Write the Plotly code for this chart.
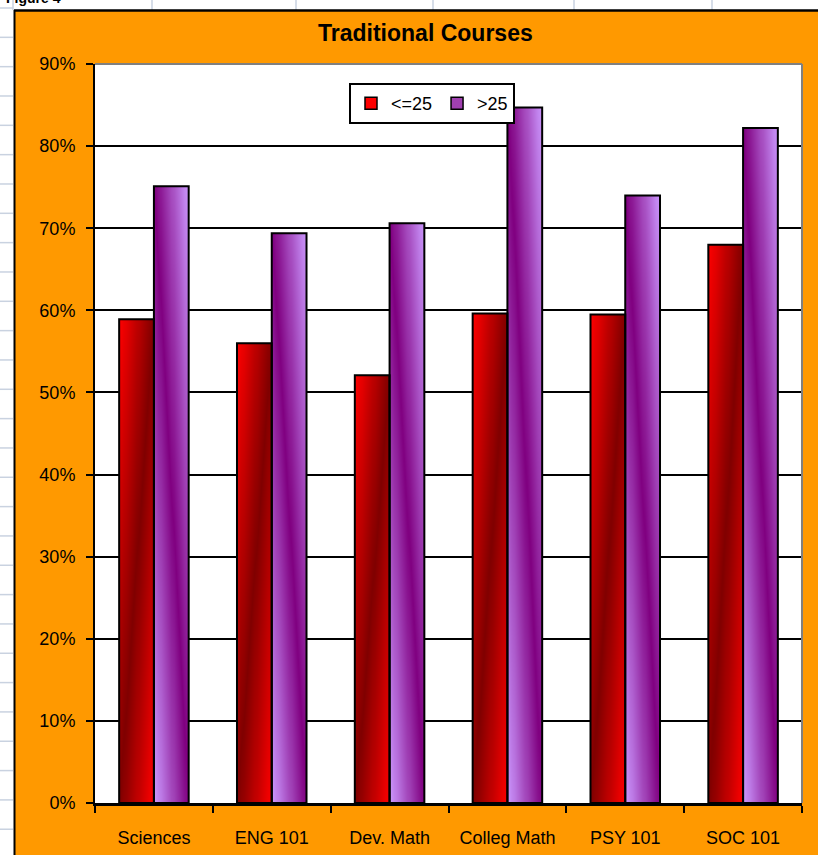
import numpy as np
import plotly.graph_objects as go

# ---- data -------------------------------------------------------------
categories = ["Sciences", "ENG 101", "Dev. Math", "Colleg Math", "PSY 101", "SOC 101"]
series_names = ["<=25", ">25"]
age_le_25 = [0.589, 0.560, 0.521, 0.596, 0.595, 0.680]
age_gt_25 = [0.751, 0.694, 0.706, 0.847, 0.740, 0.822]
y_tick_values = [0.0, 0.1, 0.2, 0.3, 0.4, 0.5, 0.6, 0.7, 0.8, 0.9]
title_text = "Traditional Courses"

# ---- page geometry ----------------------------------------------------
W, H = 818, 855
L, R, T, B = 95, 16, 64, 52
FONT = "Liberation Sans, Arial, sans-serif"


def px_x(p):
    return (p - L) / (W - L - R)


def px_y(p):
    return (H - B - p) / (H - T - B)


BAR_W = 0.295
RED_LIGHT, RED_DARK = "#FF0000", "#800000"
PUR_LIGHT, PUR_DARK = "#CC99FF", "#800080"


def gradient_fill(i, value, offset, light, dark, band):
    """Heatmap that paints one bar with a diagonal two-tone gradient."""
    nc, nr = 16, 60
    xe = [i + offset + BAR_W * k / nc for k in range(nc + 1)]
    ye = [value * j / nr for j in range(nr + 1)]
    u = (np.arange(nc) + 0.5) / nc              # 0 at left edge, 1 at right
    vt = 1 - (np.arange(nr) + 0.5) / nr         # 0 at top, 1 at bottom
    if band == "down":
        s = u[None, :] - vt[:, None]
    else:
        s = u[None, :] + vt[:, None] - 1
    return go.Heatmap(
        x=xe, y=ye, z=s, zmin=-1, zmax=1, zsmooth="best",
        colorscale=[[0, light], [0.5, dark], [1, light]],
        showscale=False, hoverinfo="skip",
    )


fig = go.Figure()
idx = list(range(len(categories)))

for i in idx:
    fig.add_trace(gradient_fill(i, age_le_25[i], -BAR_W, RED_LIGHT, RED_DARK, "up"))
    fig.add_trace(gradient_fill(i, age_gt_25[i], 0.0, PUR_LIGHT, PUR_DARK, "down"))

# bar outlines on top of the gradients
for vals, off, name in [(age_le_25, -BAR_W, series_names[0]), (age_gt_25, 0.0, series_names[1])]:
    fig.add_trace(go.Bar(
        x=idx, y=vals, width=BAR_W, offset=off, name=name,
        marker=dict(color="rgba(0,0,0,0)", line=dict(color="black", width=2)),
        showlegend=False, hovertemplate="%{y:.0%}<extra>" + name + "</extra>",
    ))

# legend entries
for name, col in [(series_names[0], "#FF0000"), (series_names[1], "#A040B0")]:
    fig.add_trace(go.Bar(
        x=[None], y=[None], name=name,
        marker=dict(color=col, line=dict(color="black", width=1.5)),
    ))

# ---- decoration: spreadsheet strip, chart area border, plot border -----
shapes = []
shapes.append(dict(type="rect", xref="paper", yref="paper", layer="below",
                   x0=px_x(0), x1=px_x(W), y0=px_y(0), y1=px_y(10),
                   fillcolor="white", line=dict(width=0)))
shapes.append(dict(type="rect", xref="paper", yref="paper", layer="below",
                   x0=px_x(0), x1=px_x(14), y0=px_y(0), y1=px_y(H),
                   fillcolor="white", line=dict(width=0)))
grid_col = "#C9D2E0"
for k in range(30):
    yy = 8.0 + 29.33 * k
    if yy > H:
        break
    shapes.append(dict(type="line", xref="paper", yref="paper", layer="below",
                       x0=px_x(0), x1=px_x(13), y0=px_y(yy), y1=px_y(yy),
                       line=dict(color=grid_col, width=1.5)))
for xx in [13, 152, 296, 433, 574, 712]:
    shapes.append(dict(type="line", xref="paper", yref="paper", layer="below",
                       x0=px_x(xx), x1=px_x(xx), y0=px_y(0), y1=px_y(10),
                       line=dict(color=grid_col, width=1.5)))
# chart area border
shapes.append(dict(type="line", xref="paper", yref="paper", layer="below",
                   x0=px_x(14.5), x1=px_x(14.5), y0=px_y(10), y1=px_y(H),
                   line=dict(color="black", width=2)))
shapes.append(dict(type="line", xref="paper", yref="paper", layer="below",
                   x0=px_x(14), x1=px_x(W), y0=px_y(10.5), y1=px_y(10.5),
                   line=dict(color="black", width=2.5)))
# plot area border (top and right)
shapes.append(dict(type="line", xref="paper", yref="paper", layer="above",
                   x0=0, x1=1, y0=1, y1=1, line=dict(color="#808080", width=2)))
shapes.append(dict(type="line", xref="paper", yref="paper", layer="above",
                   x0=1, x1=1, y0=0, y1=1, line=dict(color="#808080", width=2)))

annotations = [
    dict(text="<b>" + title_text + "</b>", xref="paper", yref="paper",
         x=px_x(425), y=px_y(33), xanchor="center", yanchor="middle",
         showarrow=False, font=dict(family=FONT, size=23, color="black")),
    dict(text="<b>Figure 4</b>", xref="paper", yref="paper",
         x=px_x(4), y=px_y(-2), xanchor="left", yanchor="middle",
         showarrow=False, font=dict(family=FONT, size=14, color="black")),
]

fig.update_layout(
    width=W, height=H,
    margin=dict(l=L, r=R, t=T, b=B, pad=0),
    paper_bgcolor="#FF9900",
    plot_bgcolor="white",
    barmode="overlay",
    font=dict(family=FONT, size=18, color="black"),
    shapes=shapes,
    annotations=annotations,
    legend=dict(
        orientation="h", x=px_x(349), y=px_y(83), xanchor="left", yanchor="top",
        bgcolor="white", bordercolor="black", borderwidth=2,
        font=dict(family=FONT, size=18, color="black"),
        itemwidth=30, tracegroupgap=0,
    ),
    xaxis=dict(
        range=[-0.5, len(categories) - 0.5],
        tickmode="array", tickvals=idx, ticktext=categories,
        ticks="", showgrid=False, zeroline=False, automargin=False,
        showline=True, linecolor="black", linewidth=2.5,
        ticklabelstandoff=17,
        tickfont=dict(family=FONT, size=18, color="black"),
        minor=dict(tickmode="array",
                   tickvals=[i - 0.5 for i in range(len(categories) + 1)],
                   ticks="outside", ticklen=7, tickwidth=2, tickcolor="black",
                   showgrid=False),
    ),
    yaxis=dict(
        range=[0, 0.9], tickmode="array", tickvals=y_tick_values,
        tickformat=".0%", ticks="outside", ticklen=7, tickwidth=2,
        tickcolor="black", showgrid=True, gridcolor="black", gridwidth=1.5,
        zeroline=False, showline=True, linecolor="black", linewidth=2,
        automargin=False, ticklabelstandoff=7,
        tickfont=dict(family=FONT, size=18, color="black"),
    ),
)

fig.write_html("out.html")
